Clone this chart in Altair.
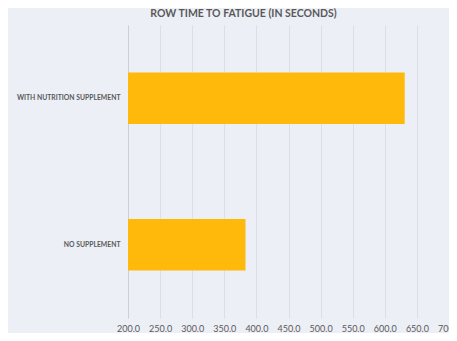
import altair as alt
import pandas as pd

categories = ["WITH NUTRITION SUPPLEMENT", "NO SUPPLEMENT"]
values = [631.0, 383.0]
tick_values = [200, 250, 300, 350, 400, 450, 500, 550, 600, 650, 700]

df = pd.DataFrame({"group": categories, "seconds": values})

FONT = "Lato"
TXT = "#595959"

chart = (
    alt.Chart(df)
    .mark_bar(color="#FFB90A")
    .encode(
        y=alt.Y(
            "group:N",
            sort=categories,
            scale=alt.Scale(paddingInner=0.65, paddingOuter=0.325),
            axis=alt.Axis(
                title=None,
                ticks=False,
                grid=False,
                domain=True,
                domainColor="#CFCFD2",
                labelPadding=8,
                labelFont=FONT,
                labelFontSize=6.8,
                labelFontWeight="bold",
                labelColor=TXT,
                labelLimit=300,
            ),
        ),
        x=alt.X(
            "seconds:Q",
            scale=alt.Scale(domain=[200, 700], nice=False, zero=False),
            axis=alt.Axis(
                title=None,
                values=tick_values,
                format=".1f",
                domain=False,
                ticks=False,
                grid=True,
                gridColor="#DCDFE6",
                labelPadding=6,
                labelFont=FONT,
                labelFontSize=9,
                labelColor=TXT,
                labelFlush=False,
                labelOverlap=False,
            ),
        ),
        x2=alt.datum(200),
    )
    .properties(
        width=321,
        height=293,
        autosize=alt.AutoSizeParams(type="none"),
        padding={"left": 120, "top": 17, "right": 0, "bottom": 15},
        background="#ECEFF6",
        title=alt.TitleParams(
            "ROW TIME TO FATIGUE (IN SECONDS)",
            font=FONT,
            fontSize=10.5,
            fontWeight="bold",
            color=TXT,
            anchor="middle",
            dx=-45,
            offset=6,
        ),
    )
    .configure_view(stroke=None)
)

chart.save("out.html", embed_options={"renderer": "svg", "actions": False})
